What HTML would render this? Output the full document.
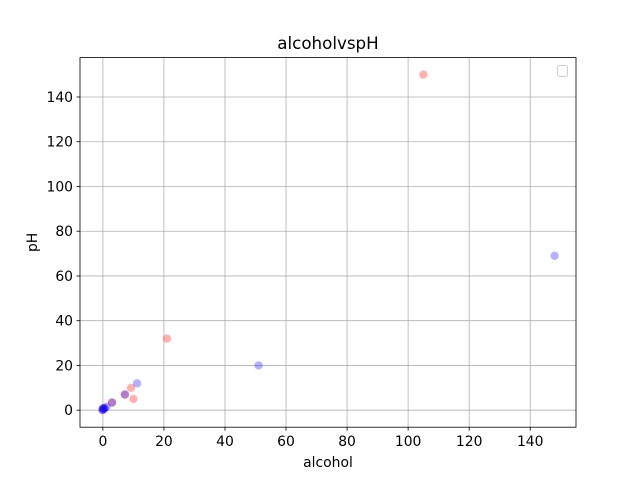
<!DOCTYPE html>
<html><head><meta charset="utf-8"><style>body{margin:0;background:#fff}svg{display:block;font-family:"DejaVu Sans","Liberation Sans",sans-serif}</style></head>
<body>
<svg id="c" width="640" height="480" xmlns="http://www.w3.org/2000/svg"></svg>
<script>
const xTicks=[0,20,40,60,80,100,120,140];
const yTicks=[0,20,40,60,80,100,120,140];
const redX=[105,21,9.2,10,7.2,3,0,0.5];
const redY=[150,32,10,5,7,3.4,0.5,1];
const blueX=[148,51,11.2,7.2,3,1.2,0,0.3,0,0.6,-0.2];
const blueY=[69,20,12,7,3.4,1.5,0,0.5,1,0.8,0.2];
const L=80,R=576,T=57.6,B=427.2,xmin=-7.5,xmax=155,ymin=-7.6,ymax=157.6;
const sx=v=>L+(v-xmin)/(xmax-xmin)*(R-L);
const sy=v=>B-(v-ymin)/(ymax-ymin)*(B-T);
const svg=document.getElementById('c');const NS='http://www.w3.org/2000/svg';
function mk(t,a,p){const e=document.createElementNS(NS,t);for(const k in a)e.setAttribute(k,a[k]);(p||svg).appendChild(e);return e;}
const bg=mk('rect',{x:L,y:T,width:R-L,height:B-T,fill:'#fff'});


xTicks.forEach(t=>{const x=sx(t);
const g=mk('line',{x1:x,x2:x,y1:T,y2:B,stroke:'#b0b0b0','stroke-width':0.8});


mk('line',{x1:x,x2:x,y1:B,y2:B+3.5,stroke:'#000','stroke-width':0.8});
const tx=mk('text',{x:x,y:B+19,'font-size':13.9,'text-anchor':'middle'});tx.textContent=t;

});
yTicks.forEach(t=>{const y=sy(t);
const g=mk('line',{x1:L,x2:R,y1:y,y2:y,stroke:'#b0b0b0','stroke-width':0.8});


mk('line',{x1:L-3.5,x2:L,y1:y,y2:y,stroke:'#000','stroke-width':0.8});
const tx=mk('text',{x:L-7,y:y+5,'font-size':13.9,'text-anchor':'end'});tx.textContent=t;

});
redX.forEach((v,i)=>{const c=mk('circle',{cx:sx(v),cy:sy(redY[i]),r:4.2,fill:'#ff0000','fill-opacity':0.3});

});
blueX.forEach((v,i)=>{const c=mk('circle',{cx:sx(v),cy:sy(blueY[i]),r:4.2,fill:'#0000ff','fill-opacity':0.3});

});
const fr=mk('rect',{x:L,y:T,width:R-L,height:B-T,fill:'none',stroke:'#000','stroke-width':0.8});


const lg=mk('rect',{x:557.5,y:65.5,width:10,height:11,rx:2,fill:'#fff',stroke:'#ccc','stroke-width':1});


const ti=mk('text',{x:(L+R)/2,y:49,'font-size':16.7,'text-anchor':'middle'});ti.textContent='alcoholvspH';


const xl=mk('text',{x:(L+R)/2,y:467,'font-size':13.9,'text-anchor':'middle'});xl.textContent='alcohol';


const yl=mk('text',{x:0,y:0,'font-size':13.9,'text-anchor':'middle',transform:`translate(37,${(T+B)/2}) rotate(-90)`});yl.textContent='pH';


</script>
</body></html>
